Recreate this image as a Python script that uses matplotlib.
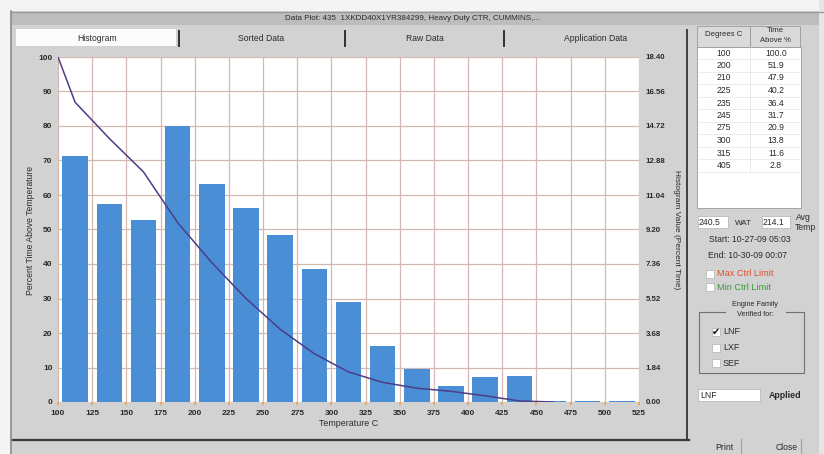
import matplotlib
matplotlib.use('Agg')
import matplotlib.pyplot as plt
from matplotlib.patches import Rectangle
from matplotlib.lines import Line2D

plt.rcParams['font.family'] = ['Liberation Sans', 'DejaVu Sans']

# ---------------- data ----------------
bin_starts = [100, 125, 150, 175, 200, 225, 250, 275, 300, 325, 350, 375, 400, 425, 450, 475, 500]
hist_values = [13.10, 10.54, 9.68, 14.72, 11.63, 10.34, 8.91, 7.08, 5.32, 2.98, 1.75, 0.88,
               1.31, 1.40, 0.06, 0.06, 0.06]
line_temps = [100, 112.5, 137.5, 162.5, 187.5, 212.5, 237.5, 262.5, 287.5, 312.5, 337.5,
              362.5, 387.5, 412.5, 437.5, 462.5]
line_values = [100.0, 86.9, 76.4, 66.7, 52.0, 40.4, 30.0, 21.1, 14.0, 8.7, 5.7, 4.0, 3.1,
               1.8, 0.3, 0.0]
x_ticks = [100, 125, 150, 175, 200, 225, 250, 275, 300, 325, 350, 375, 400, 425, 450, 475, 500, 525]
left_ticks = [0, 10, 20, 30, 40, 50, 60, 70, 80, 90, 100]
right_ticks = [0.00, 1.84, 3.68, 5.52, 7.36, 9.20, 11.04, 12.88, 14.72, 16.56, 18.40]
right_labels = ['0.00', '1.84', '3.68', '5.52', '7.36', '9.20', '11.04', '12.88', '14.72',
                '16.56', '18.40']
table_degrees = ['100', '200', '210', '225', '235', '245', '275', '300', '315', '405']
table_time = ['100.0', '51.9', '47.9', '40.2', '36.4', '31.7', '20.9', '13.8', '11.6', '2.8']
tab_names = ['Histogram', 'Sorted Data', 'Raw Data', 'Application Data']

W, H = 824, 454
fig = plt.figure(figsize=(W / 100, H / 100), dpi=100)
TXT = '#2a2a2a'
FS = 6.2

# ---------------- background UI (pixel coords) ----------------
bg = fig.add_axes([0, 0, 1, 1])
bg.set_xlim(0, W)
bg.set_ylim(H, 0)
bg.axis('off')
bg.set_zorder(-10)
GRAY = '#d2d2d2'
bg.add_patch(Rectangle((0, 0), W, H, facecolor=GRAY, edgecolor='none'))
bg.add_patch(Rectangle((0, 0), W, 11, facecolor='#f4f4f4', edgecolor='none'))
bg.add_patch(Rectangle((0, 0), 11, H, facecolor='#f4f4f4', edgecolor='none'))
bg.add_patch(Rectangle((819, 0), 5, H, facecolor='#e6e6e6', edgecolor='none'))
bg.add_line(Line2D([11, W], [11.5, 11.5], color='#9a9a9a', lw=1))
bg.add_line(Line2D([11.5, 11.5], [11, H], color='#8a8a8a', lw=1.2))
# title bar
bg.add_patch(Rectangle((12, 12), 807, 13, facecolor='#bdbdbd', edgecolor='none'))
bg.text(413, 18.5, 'Data Plot: 435  1XKDD40X1YR384299, Heavy Duty CTR, CUMMINS,...',
        ha='center', va='center', fontsize=5.8, color=TXT)
# tabs
bg.add_patch(Rectangle((16, 29), 160, 17, facecolor='#fbfbfb', edgecolor='none'))
tab_x = [97, 261, 425, 596]
for name, tx in zip(tab_names, tab_x):
    bg.text(tx, 38.5, name, ha='center', va='center', fontsize=6.2, color=TXT)
for sx in [179, 345, 504]:
    bg.add_line(Line2D([sx, sx], [31, 46], color='#303030', lw=1.4))
# chart panel borders
bg.add_line(Line2D([687.5, 687.5], [30, 440], color='#404040', lw=1.4))
bg.add_line(Line2D([13, 689], [439.5, 439.5], color='#3a3a3a', lw=1.6))

# axis titles (drawn as figure text in pixel positions)
bg.text(31, 230, 'Percent Time Above Temperature', rotation=90, ha='center', va='center',
        fontsize=6.2, color=TXT)
bg.text(677, 230, 'Histogram Value (Percent Time)', rotation=-90, ha='center', va='center',
        fontsize=6.0, color=TXT)
bg.text(349, 423, 'Temperature C', ha='center', va='center', fontsize=6.4, color=TXT)

# right panel table
bg.add_patch(Rectangle((697, 26), 53, 21, facecolor='#dadada', edgecolor='#9a9a9a', lw=0.6))
bg.add_patch(Rectangle((750, 26), 50, 21, facecolor='#dadada', edgecolor='#9a9a9a', lw=0.6))
bg.text(723.5, 35, 'Degrees C', ha='center', va='center', fontsize=5.6, color=TXT)
bg.text(775, 30.5, 'Time', ha='center', va='center', fontsize=5.6, color=TXT)
bg.text(775, 40.5, 'Above %', ha='center', va='center', fontsize=5.6, color=TXT)
bg.add_patch(Rectangle((697, 47), 104, 161, facecolor='white', edgecolor='#9a9a9a', lw=0.6))
for i, (d, t) in enumerate(zip(table_degrees, table_time)):
    yy = 53 + 12.5 * i
    bg.text(724, yy, d, ha='center', va='center', fontsize=FS, color=TXT)
    bg.text(776, yy, t, ha='center', va='center', fontsize=FS, color=TXT)
    bg.add_line(Line2D([698, 800], [yy + 6.2, yy + 6.2], color='#e4e4e4', lw=0.5))
bg.add_line(Line2D([750, 750], [47, 172], color='#e0e0e0', lw=0.5))

# stats row
bg.add_patch(Rectangle((698, 216), 30, 12, facecolor='white', edgecolor='#b0b0b0', lw=0.5))
bg.text(699, 222.5, '240.5', ha='left', va='center', fontsize=FS, color=TXT)
bg.text(743, 223.5, 'WAT', ha='center', va='center', fontsize=5.8, color=TXT)
bg.add_patch(Rectangle((762, 216), 28, 12, facecolor='white', edgecolor='#b0b0b0', lw=0.5))
bg.text(763, 222.5, '214.1', ha='left', va='center', fontsize=FS, color=TXT)
bg.text(803, 217, 'Avg', ha='center', va='center', fontsize=FS, color=TXT)
bg.text(805, 227.5, 'Temp', ha='center', va='center', fontsize=FS, color=TXT)
bg.text(750, 239.5, 'Start: 10-27-09 05:03', ha='center', va='center', fontsize=FS,
        color=TXT)
bg.text(748, 256, 'End: 10-30-09 00:07', ha='center', va='center', fontsize=FS,
        color=TXT)
# limit check boxes
bg.add_patch(Rectangle((706, 270), 8, 8, facecolor='white', edgecolor='#b0b0b0', lw=0.5))
bg.text(717, 274, 'Max Ctrl Limit', ha='left', va='center', fontsize=6.6, color='#e0502a')
bg.add_patch(Rectangle((706, 283), 8, 8, facecolor='white', edgecolor='#b0b0b0', lw=0.5))
bg.text(717, 287, 'Min Ctrl Limit', ha='left', va='center', fontsize=6.6, color='#3a9a3a')
# engine family group
bg.add_patch(Rectangle((699, 312), 105, 61, facecolor='none', edgecolor='#707070', lw=0.8))
bg.add_patch(Rectangle((726, 300), 60, 18, facecolor=GRAY, edgecolor='none'))
bg.text(755, 305, 'Engine Family', ha='center', va='center', fontsize=5.2, color=TXT)
bg.text(755, 314, 'Verified for:', ha='center', va='center', fontsize=5.2, color=TXT)
for j, (lab, yy) in enumerate(zip(['LNF', 'LXF', 'SEF'], [332, 348, 363])):
    bg.add_patch(Rectangle((712, yy - 4), 8, 8, facecolor='white', edgecolor='#b0b0b0', lw=0.5))
    bg.text(723, yy, lab, ha='left', va='center', fontsize=6.4, color=TXT)
bg.text(716, 331.5, '\u2714', ha='center', va='center', fontsize=7, color='#111111',
        family=['DejaVu Sans'])
# applied box
bg.add_patch(Rectangle((698, 389), 62, 12, facecolor='white', edgecolor='#b0b0b0', lw=0.5))
bg.text(700, 395, 'LNF', ha='left', va='center', fontsize=FS, color=TXT)
bg.text(785, 395.5, 'Applied', ha='center', va='center', fontsize=6.4, color=TXT,
        fontweight='bold')
# buttons
bg.text(724, 447.5, 'Print', ha='center', va='center', fontsize=FS, color=TXT)
bg.text(787, 447.5, 'Close', ha='center', va='center', fontsize=FS, color=TXT)
bg.add_line(Line2D([741, 741], [439, 454], color='#a0a0a0', lw=0.8))
bg.add_line(Line2D([801, 801], [439, 454], color='#a0a0a0', lw=0.8))

# ---------------- chart ----------------
L, R, T, B = 58, 639, 57, 402
rect = [L / W, 1 - B / H, (R - L) / W, (B - T) / H]
ax2 = fig.add_axes(rect)            # histogram (right scale)
ax = fig.add_axes(rect, sharex=ax2)  # percent above (left scale)
ax.set_zorder(ax2.get_zorder() + 1)
ax.patch.set_visible(False)
ax2.set_facecolor('white')

GRID = '#d3b9b3'
centers = [s + 12.5 for s in bin_starts]
ax2.bar(centers, hist_values, width=18.6, color='#4a8fd6', edgecolor='none', zorder=3)
ax2.set_ylim(0, 18.40)
ax2.set_yticks(right_ticks)
ax2.set_yticklabels(right_labels)
ax2.yaxis.tick_right()
ax2.set_axisbelow(True)
ax2.grid(True, color=GRID, lw=0.9)
ax2.tick_params(axis='y', length=0, pad=5, labelsize=5.7, labelcolor=TXT)

ax.plot(line_temps, line_values, color='#4b3d86', lw=1.1, zorder=5)
ax.set_xlim(100, 525)
ax.set_ylim(0, 100)
ax.set_yticks(left_ticks)
ax.set_xticks(x_ticks)
ax.tick_params(axis='y', length=0, pad=4, labelsize=6.0, labelcolor=TXT)
ax.tick_params(axis='x', length=2.5, width=1.2, color='#f0a040', pad=3, labelsize=6.0,
               labelcolor=TXT)
ax2.tick_params(axis='x', length=0, labelbottom=False)
for lab in ax.get_xticklabels() + ax.get_yticklabels() + ax2.get_yticklabels():
    lab.set_fontweight('bold')

for a in (ax, ax2):
    for s in a.spines.values():
        s.set_visible(False)

fig.savefig('out.png', dpi=100)
